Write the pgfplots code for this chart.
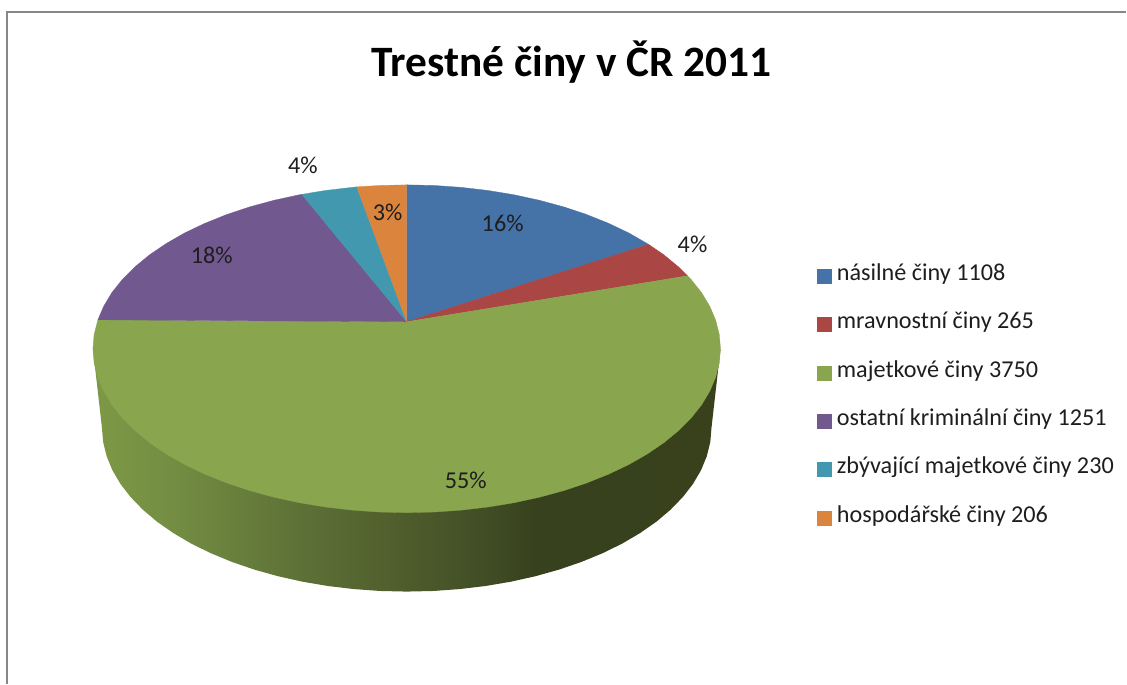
\documentclass[border=0pt]{standalone}
\usepackage{pgfplots}
\pgfplotsset{compat=1.18}
\usepackage{fontspec}
\setmainfont{Carlito}
\definecolor{cblue}{HTML}{4572A7}
\definecolor{cred}{HTML}{AA4643}
\definecolor{cgreen}{HTML}{89A54E}
\definecolor{cpurple}{HTML}{71588F}
\definecolor{cteal}{HTML}{4198AF}
\definecolor{corange}{HTML}{DB843D}
\definecolor{txt}{HTML}{1E1E1E}
\pgfdeclarehorizontalshading{sideshade}{100bp}{
 rgb(0bp)=(0.49,0.60,0.27);
 rgb(25bp)=(0.49,0.60,0.27);
 rgb(31.7bp)=(0.45,0.55,0.26);
 rgb(40.8bp)=(0.37,0.45,0.215);
 rgb(50.1bp)=(0.305,0.36,0.17);
 rgb(56.2bp)=(0.255,0.305,0.145);
 rgb(60.2bp)=(0.215,0.255,0.115);
 rgb(75bp)=(0.22,0.255,0.11);
 rgb(100bp)=(0.22,0.255,0.11)}
\begin{document}
\begin{tikzpicture}
\begin{axis}[
  scale only axis, width=1127pt, height=684pt,
  xmin=0, xmax=1127, ymin=0, ymax=684, y dir=reverse,
  axis lines=none, no marks, clip=false,
  legend image code/.code={\fill[#1] (0pt,-7pt) rectangle (14pt,7pt);},
  legend cell align=left,
  legend style={draw=none, fill=none, at={(axis cs:817,267.5)}, anchor=north west,
    font=\fontsize{24.2}{24.2}\selectfont\color{txt},
    inner sep=0pt, row sep=31.4pt,
    nodes={inner ysep=0pt, inner xsep=0pt, text height=13pt, text depth=4pt},
    /tikz/every odd column/.append style={column sep=6pt}},
]
\addplot[forget plot, draw=none] coordinates {(0,0)(1127,684)};
\path (axis cs:0,0) rectangle (axis cs:1127,684);
\addplot[forget plot, draw=black!47, line width=1.6pt] coordinates {(7,684)(7,12)(1127,12)};
% side of the pie
\addplot[forget plot, shading=sideshade, draw=none] coordinates {
(721,349)(712,428)(710.8,442.3)(707.3,456.5)(701.6,470.4)(693.6,484.1)(683.4,497.3)(671.1,510)(656.8,522.1)(640.6,533.4)(622.6,544)(603,553.6)(581.9,562.3)(559.5,570)(535.9,576.6)(511.3,582.1)(486,586.4)(459.9,589.5)(433.6,591.4)(407,592)(380.4,591.4)(354.1,589.5)(328,586.4)(302.7,582.1)(278.1,576.6)(254.5,570)(232.1,562.3)(211,553.6)(191.4,544)(173.4,533.4)(157.2,522.1)(142.9,510)(130.6,497.3)(120.4,484.1)(112.4,470.4)(106.7,456.5)(103.2,442.3)(102,428)(93,349)} -- cycle;
% násilné činy
\addplot[fill=cblue, draw=cblue, line width=0.3pt] coordinates {
(407,322)(407,185)(434.4,185.6)(461.5,187.5)(488.3,190.6)(514.4,194.9)(539.7,200.4)(564,207)(587.1,214.7)(608.8,223.4)(629,233)(647.5,243.6)(649,244.5)} -- cycle;
% mravnostní činy
\addplot[fill=cred, draw=cred, line width=0.3pt] coordinates {
(407,322)(649,244.5)(664.2,254.9)(678.9,267)(688,276)} -- cycle;
% majetkové činy
\addplot[fill=cgreen, draw=cgreen, line width=0.3pt] coordinates {
(407,322)(688,276)(691.6,279.7)(702.1,292.9)(710.3,306.6)(716.2,320.5)(719.8,334.7)(721,349)(719.8,363.3)(716.2,377.5)(710.3,391.4)(702.1,405.1)(691.6,418.3)(678.9,431)(664.2,443.1)(647.5,454.4)(629,465)(608.8,474.6)(587.1,483.3)(564,491)(539.7,497.6)(514.4,503.1)(488.3,507.4)(461.5,510.5)(434.4,512.4)(407,513)(379.6,512.4)(352.5,510.5)(325.7,507.4)(299.6,503.1)(274.3,497.6)(250,491)(226.9,483.3)(205.2,474.6)(185,465)(166.5,454.4)(149.8,443.1)(135.1,431)(122.4,418.3)(111.9,405.1)(103.7,391.4)(97.8,377.5)(94.2,363.3)(93,349)(94.2,334.7)(98,320)} -- cycle;
% ostatní kriminální činy
\addplot[fill=cpurple, draw=cpurple, line width=0.3pt] coordinates {
(407,322)(98,320)(103.7,306.6)(111.9,292.9)(122.4,279.7)(135.1,267)(149.8,254.9)(166.5,243.6)(185,233)(205.2,223.4)(226.9,214.7)(250,207)(274.3,200.4)(299.6,194.9)(302,194.5)} -- cycle;
% zbývající majetkové činy
\addplot[fill=cteal, draw=cteal, line width=0.3pt] coordinates {
(407,322)(302,194.5)(325.7,190.6)(352.5,187.5)(357,187)} -- cycle;
% hospodářské činy
\addplot[fill=corange, draw=corange, line width=0.3pt] coordinates {
(407,322)(357,187)(379.6,185.6)(407,185)} -- cycle;
\legend{násilné činy 1108, mravnostní činy 265, majetkové činy 3750, ostatní kriminální činy 1251, zbývající majetkové činy 230, hospodářské činy 206}
\node[font=\fontsize{43.4}{43.4}\selectfont\bfseries, text=black] at (axis cs:572,62) {Trestné činy v ČR 2011};
\begin{scope}[every node/.style={font=\fontsize{24.2}{24.2}\selectfont, text=txt}]
\node at (axis cs:303,165) {4\%};
\node at (axis cs:503,224) {16\%};
\node at (axis cs:693,245) {4\%};
\node at (axis cs:212,256) {18\%};
\node at (axis cs:388,213) {3\%};
\node at (axis cs:466,481) {55\%};
\end{scope}
\end{axis}
\end{tikzpicture}
\end{document}
